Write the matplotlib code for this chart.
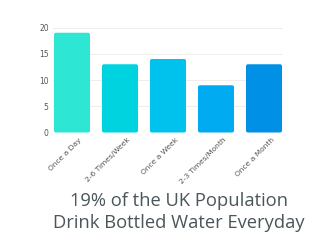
import matplotlib
matplotlib.use("Agg")
import matplotlib.pyplot as plt
import matplotlib.transforms as mtransforms
from matplotlib.patches import FancyBboxPatch

# Datos del grafico
categorias = ['Once a Day', '2-6 Times/Week', 'Once a Week', '2-3 Times/Month', 'Once a Month']
valores = [19, 13, 14, 9, 13]
colores = ['#2ee6d4', '#00d3e0', '#00c2ec', '#00abf1', '#0091e7']
titulo = '19% of the UK Population\nDrink Bottled Water Everyday'
ticks_y = [0, 5, 10, 15, 20]

fig = plt.figure(figsize=(3.33, 2.5), dpi=100)
ax = fig.add_axes([52.8 / 333, 1 - 132.5 / 250, 230.4 / 333, 105 / 250])

ancho = 0.75
barras = ax.bar(range(len(valores)), valores, width=ancho, color=colores)

# Reemplazar las barras por rectangulos con esquinas redondeadas
aspecto = (48 / 5.25)
for barra in barras:
    x, y = barra.get_x(), barra.get_y()
    w, h = barra.get_width(), barra.get_height()
    barra.set_visible(False)
    caja = FancyBboxPatch((x, y), w, h, boxstyle="round,pad=0,rounding_size=0.04",
                          mutation_aspect=aspecto, facecolor=barra.get_facecolor(),
                          edgecolor='none', zorder=3)
    ax.add_patch(caja)

ax.set_xlim(-0.4, 4.4)
ax.set_ylim(0, 20)
ax.set_yticks(ticks_y)
ax.set_xticks(range(len(categorias)))
ax.set_xticklabels(categorias, rotation=45, ha='right', rotation_mode='anchor',
                   fontsize=5.4, color='#555555')
ax.tick_params(axis='y', labelsize=5.5, colors='#555555', length=0, pad=3)
ax.tick_params(axis='x', length=0, pad=3)

# Mover las etiquetas del eje x un poco a la derecha
desplazamiento = mtransforms.ScaledTranslation(7 / 100, 0, fig.dpi_scale_trans)
for etiqueta in ax.get_xticklabels():
    etiqueta.set_transform(etiqueta.get_transform() + desplazamiento)

ax.grid(axis='y', color='#eeeeee', linewidth=0.7, zorder=0)
ax.set_axisbelow(True)
for lado in ax.spines.values():
    lado.set_visible(False)

fig.text(0.538, 0.152, titulo, ha='center', va='center', fontsize=13.2,
         family='Open Sans', color='#4a5659', linespacing=1.3)

fig.savefig('out.png', dpi=100)
